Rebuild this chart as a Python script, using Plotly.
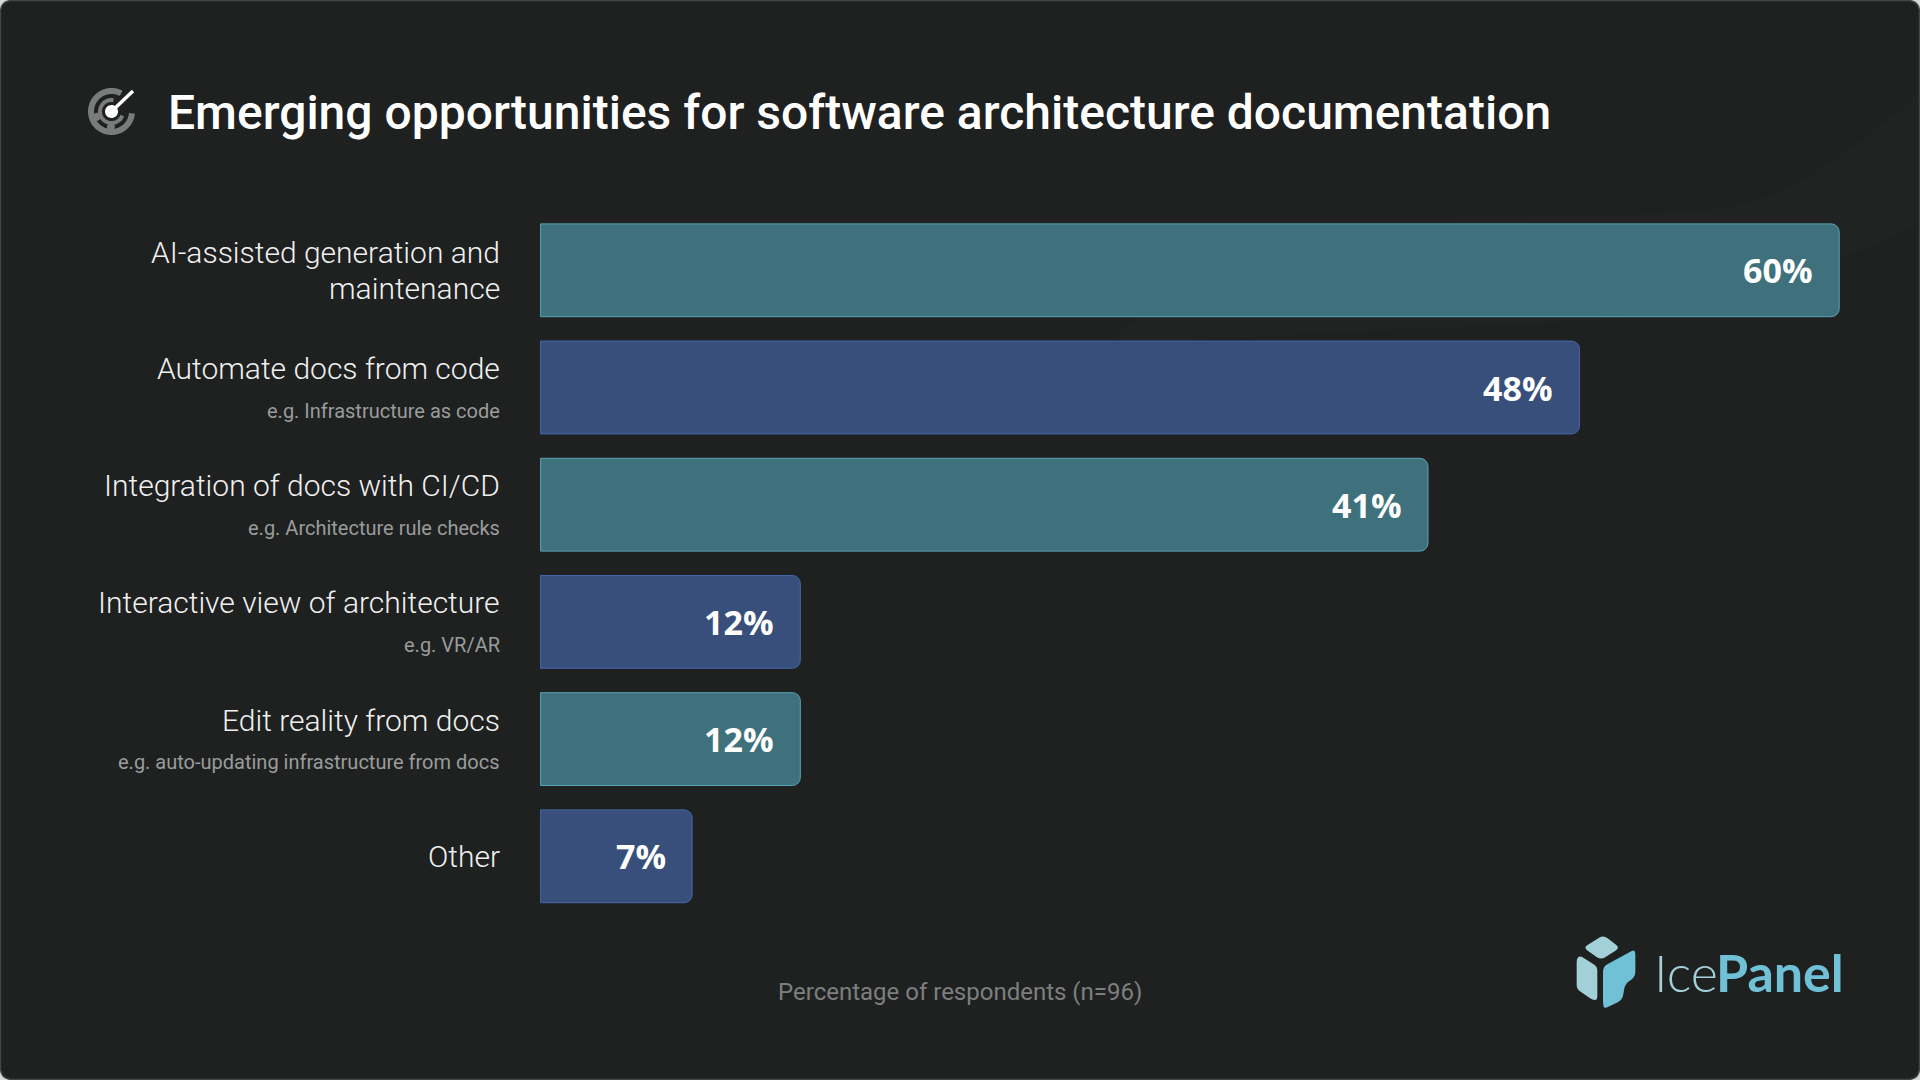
import numpy as np
import plotly.graph_objects as go

categories = ["AI-assisted generation and<br>maintenance", "Automate docs from code", "Integration of docs with CI/CD",
              "Interactive view of architecture", "Edit reality from docs", "Other"]
subtitles = ["", "e.g. Infrastructure as code", "e.g. Architecture rule checks", "e.g. VR/AR",
             "e.g. auto-updating infrastructure from docs", ""]
values = [60, 48, 41, 12, 12, 7]
bar_colors = ["#3e717c", "#394f7b", "#3e717c", "#394f7b", "#3e717c", "#394f7b"]
line_colors = ["#58a5b5", "#4467ab", "#58a5b5", "#4467ab", "#58a5b5", "#4467ab"]
title_text = "Emerging opportunities for software architecture documentation"
footer_text = "Percentage of respondents (n=96)"

W, H = 1920, 1080
def px(x): return x / W
def py(y): return 1 - y / H

def to_path(pts):
    return "M" + " L".join(f"{px(x):.5f},{py(y):.5f}" for x, y in pts)

def rounded(points, r):
    n = len(points); out = ""
    for i in range(n):
        p = np.array(points[i], float); a = np.array(points[i-1], float); b = np.array(points[(i+1) % n], float)
        da = a-p; db = b-p
        ra = min(r, np.linalg.norm(da)/2); rb = min(r, np.linalg.norm(db)/2)
        s = p + da/np.linalg.norm(da)*ra; e = p + db/np.linalg.norm(db)*rb
        out += ("M" if i == 0 else "L") + f"{px(s[0]):.5f},{py(s[1]):.5f} Q{px(p[0]):.5f},{py(p[1]):.5f} {px(e[0]):.5f},{py(e[1]):.5f} "
    return out + "Z"

def curve(cmds):
    out = []
    for c in cmds:
        if isinstance(c, str): out.append(c)
        else: out.append(f"{px(c[0]):.5f},{py(c[1]):.5f}")
    return " ".join(out)

def arc(cx, cy, r, a0, a1):
    t = np.radians(np.linspace(a0, a1, 80))
    return to_path(list(zip(cx + r*np.cos(t), cy - r*np.sin(t))))

shapes = []
def add(path, fill=None, line=None, lw=0, opacity=1, layer="below"):
    s = dict(type="path", xref="paper", yref="paper", path=path, layer=layer, opacity=opacity)
    s["fillcolor"] = fill if fill else "rgba(0,0,0,0)"
    s["line"] = dict(color=line if line else "rgba(0,0,0,0)", width=lw)
    shapes.append(s)

# card with rounded corners
add(rounded([(0.5, 0.5), (1919.5, 0.5), (1919.5, 1079.5), (0.5, 1079.5)], 12), fill="#1f2121", line="#434545", lw=1.5)
# background waves: stacked faint layers so the lower edge fades out
top_edge = ["M", (0, 672), "C", (300, 640), (620, 520), (900, 470), "C", (1100, 430), (1300, 345), (1500, 335),
            "C", (1700, 320), (1820, 270), (1918, 225)]
for low_r, low_m, low_l in [(560, 700, 760), (640, 780, 840), (720, 860, 920), (800, 930, 980)]:
    add(curve(top_edge + ["L", (1918, low_r), "C", (1500, low_m), (1000, low_m + 20), (2, low_l), "Z"]),
        fill="#ffffff", opacity=0.005)
add(curve(["M", (1100, 348), "C", (1180, 280), (1280, 235), (1420, 222), "C", (1560, 208), (1700, 225), (1770, 195),
           "C", (1830, 170), (1880, 125), (1918, 95), "L", (1918, 225), "C", (1820, 270), (1700, 318), (1560, 322),
           "C", (1400, 330), (1250, 335), (1100, 348), "Z"]), fill="#ffffff", opacity=0.012)

# radar icon
GREY = "#7a7c7c"
cx, cy = 111.5, 111.5
add(arc(cx, cy, 20.5, 62, 355), line=GREY, lw=6)
add(arc(cx, cy, 11.5, 80, 340), line=GREY, lw=4)
for a, r in [(200, 15.5), (268, 15.5)]:
    x = cx + r*np.cos(np.radians(a)); y = cy - r*np.sin(np.radians(a))
    t = np.radians(np.linspace(0, 360, 30))
    add(to_path(list(zip(x + 4*np.cos(t), y + 4*np.sin(t)))) + " Z", fill=GREY)
t = np.radians(np.linspace(0, 360, 40))
add(to_path(list(zip(cx + 6.5*np.cos(t), cy + 6.5*np.sin(t)))) + " Z", fill="#ffffff")
add(to_path([(cx, cy), (133, 91)]), line="#ffffff", lw=3.5)

# logo mark
def L(pts): return [(1565 + a/3, 925 + b/3) for a, b in pts]
LIGHT, BLUE = "#a3cfd9", "#70c1d6"
add(rounded(L([(115, 30), (165, 68), (108, 105), (55, 68)]), 5), fill=LIGHT)
add(rounded(L([(45, 92), (97, 125), (97, 225), (83, 225), (35, 192), (35, 100)]), 4), fill=LIGHT)
add(rounded(L([(205, 75), (211, 80), (211, 155), (180, 178), (172, 225), (118, 251), (114, 240), (114, 125)]), 5), fill=BLUE)

annotations = []
def note(text, x, y, size, color, anchor="right", family="Roboto", weight=400, **kw):
    annotations.append(dict(text=text, x=x, y=y, xref=kw.pop("xref", "paper"), yref=kw.pop("yref", "paper"),
                            xanchor=anchor, yanchor="middle", showarrow=False,
                            font=dict(family=family, size=size, color=color, weight=weight), **kw))

note(title_text, px(166), py(112), 48, "#ffffff", anchor="left", weight=500)
note(footer_text, 0.5, py(992), 24, "#7d7f7f", anchor="center")
note("Ice", px(1652), py(972), 52, LIGHT, anchor="left", family="Lato", weight=300)
note("Panel", px(1714), py(972), 52, BLUE, anchor="left", family="Lato", weight=700)

LABEL_X = px(502)
for cat, sub, val in zip(categories, subtitles, values):
    note(f"{val}%", val, cat, 34, "#ffffff", family="Open Sans", weight=700, xref="x", yref="y", xshift=-24)
    if "<br>" in cat:
        first, second = cat.split("<br>")
        note(first, LABEL_X, cat, 30, "#f0f0f0", weight=300, yref="y", yshift=18)
        note(second, LABEL_X, cat, 30, "#f0f0f0", weight=300, yref="y", yshift=-18)
    elif sub:
        note(cat, LABEL_X, cat, 30, "#f0f0f0", weight=300, yref="y", yshift=19)
        note(sub, LABEL_X, cat, 20, "#9a9c9c", yref="y", yshift=-23)
    else:
        note(cat, LABEL_X, cat, 30, "#f0f0f0", weight=300, yref="y")

fig = go.Figure(go.Bar(
    x=values, y=categories, orientation="h",
    marker=dict(color=bar_colors, line=dict(color=line_colors, width=1), cornerradius=8),
    hoverinfo="skip",
))
X0 = 540.6
ppu = (1839.2 - X0) / 60
fig.update_layout(
    width=W, height=H, margin=dict(l=0, r=0, t=0, b=0), autosize=False,
    paper_bgcolor="#d8d8d8", plot_bgcolor="rgba(0,0,0,0)", showlegend=False, bargap=0.208,
    xaxis=dict(range=[-1, 61], domain=[px(X0 - ppu), px(X0 + 61*ppu)], visible=False),
    yaxis=dict(range=[5.5, -0.5], domain=[py(914.9), py(211.7)], visible=False,
               categoryorder="array", categoryarray=categories),
    shapes=shapes, annotations=annotations,
)
fig.write_html("out.html", config={"displayModeBar": False},
               post_script="document.body.style.margin='0';document.documentElement.style.overflow='hidden';")
